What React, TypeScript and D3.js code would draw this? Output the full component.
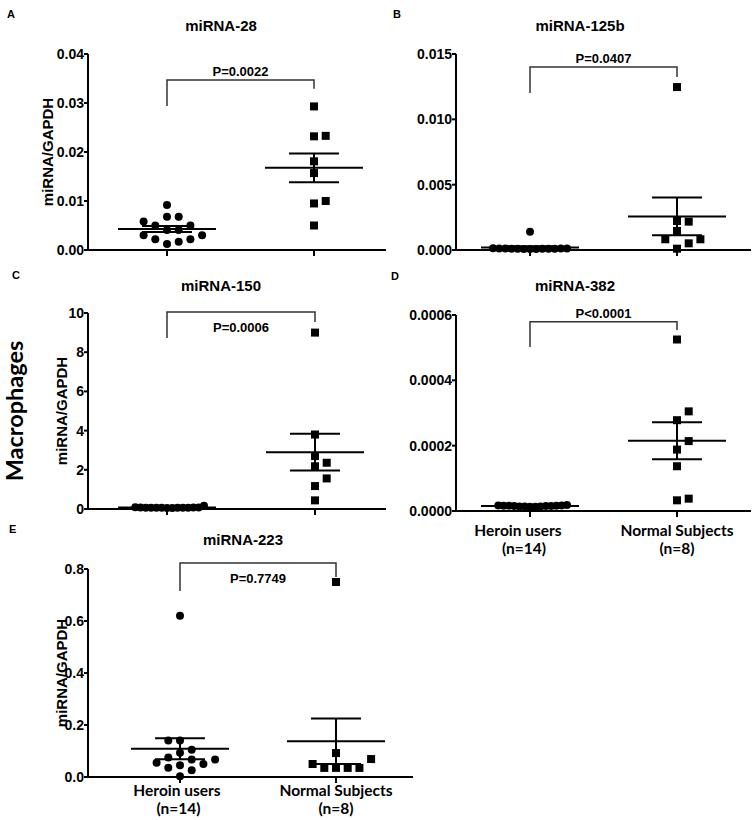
import React from "react";
import * as d3 from "d3";

// ---------- data ----------
const groups = ["Heroin users", "Normal Subjects"];
const groupCounts = ["(n=14)", "(n=8)"];
const letters = ["A", "B", "C", "D", "E"];
const titles = ["miRNA-28", "miRNA-125b", "miRNA-150", "miRNA-382", "miRNA-223"];
const pLabels = ["P=0.0022", "P=0.0407", "P=0.0006", "P<0.0001", "P=0.7749"];
const yAxisTitle = "miRNA/GAPDH";
const sideTitle = "Macrophages";

const mir28Heroin = [0.0092, 0.0068, 0.0068, 0.0058, 0.005, 0.005, 0.0041, 0.0041, 0.003, 0.003, 0.0022, 0.0022, 0.0017, 0.0012];
const mir28Normal = [0.0293, 0.0232, 0.0233, 0.0181, 0.0157, 0.01, 0.0095, 0.005];
const mir125bHeroin = [0.0014, 0.0001, 0.00012, 0.00008, 0.00011, 0.00009, 0.00013, 0.00007, 0.0001, 0.00011, 0.00009, 0.00012, 0.00008, 0.0001];
const mir125bNormal = [0.01247, 0.00217, 0.00222, 0.00146, 0.00082, 0.00082, 0.00051, 0.0001];
const mir150Heroin = [0.07, 0.06, 0.08, 0.07, 0.05, 0.07, 0.08, 0.06, 0.07, 0.05, 0.08, 0.07, 0.09, 0.17];
const mir150Normal = [9.0, 3.8, 2.7, 2.36, 2.18, 1.56, 1.17, 0.44];
const mir382Heroin = [0.000016, 0.000015, 0.000014, 0.000017, 0.000013, 0.000015, 0.000014, 0.000016, 0.000017, 0.000013, 0.000015, 0.000016, 0.000014, 0.000018];
const mir382Normal = [0.000525, 0.000305, 0.000278, 0.000214, 0.000188, 0.000137, 0.0000327, 0.0000378];
const mir223Heroin = [0.62, 0.14, 0.14, 0.105, 0.093, 0.075, 0.067, 0.067, 0.055, 0.05, 0.045, 0.036, 0.026, 0.003];
const mir223Normal = [0.75, 0.092, 0.069, 0.05, 0.035, 0.035, 0.035, 0.035];

const ticks28 = [0, 0.01, 0.02, 0.03, 0.04];
const ticks125b = [0, 0.005, 0.01, 0.015];
const ticks150 = [0, 2, 4, 6, 8, 10];
const ticks382 = [0, 0.0002, 0.0004, 0.0006];
const ticks223 = [0, 0.2, 0.4, 0.6, 0.8];

// bracket: [top, left leg end, right leg end] in data units
const bracket28 = [0.0347, 0.0294, 0.0329];
const bracket125b = [0.014, 0.01202, 0.01324];
const bracket150 = [10.05, 8.72, 9.54];
const bracket382 = [0.000579, 0.000502, 0.000554];
const bracket223 = [0.823, 0.715, 0.769];

// ---------- layout ----------
const FONT = "Arial, 'Liberation Sans', Helvetica, sans-serif";
const CAT_FONT = "Lato, 'Open Sans', sans-serif";

type Panel = {
  letter: string; title: string; p: string;
  heroin: number[]; normal: number[]; ticks: number[]; fmt: string;
  bracket: number[]; pInside: boolean;
  ax: number; right: number; top: number; bottom: number; g1: number; g2: number;
  titleX: number; titleY: number; letterX: number; letterY: number;
  yLabelX?: number; xLabels?: boolean; labelDx?: number; labelY1?: number; labelY2?: number;
};

const panels: Panel[] = [
  { letter: letters[0], title: titles[0], p: pLabels[0], heroin: mir28Heroin, normal: mir28Normal, ticks: ticks28, fmt: ".2f",
    bracket: bracket28, pInside: false, ax: 88, right: 386, top: 54, bottom: 250, g1: 167, g2: 314,
    titleX: 221, titleY: 31, letterX: 7, letterY: 18, yLabelX: 53 },
  { letter: letters[1], title: titles[1], p: pLabels[1], heroin: mir125bHeroin, normal: mir125bNormal, ticks: ticks125b, fmt: ".3f",
    bracket: bracket125b, pInside: false, ax: 456, right: 751, top: 54, bottom: 250, g1: 530, g2: 677,
    titleX: 580, titleY: 31, letterX: 393, letterY: 18 },
  { letter: letters[2], title: titles[2], p: pLabels[2], heroin: mir150Heroin, normal: mir150Normal, ticks: ticks150, fmt: "d",
    bracket: bracket150, pInside: true, ax: 88, right: 386, top: 313, bottom: 509, g1: 167, g2: 315,
    titleX: 221, titleY: 291, letterX: 12, letterY: 279, yLabelX: 67 },
  { letter: letters[3], title: titles[3], p: pLabels[3], heroin: mir382Heroin, normal: mir382Normal, ticks: ticks382, fmt: ".4f",
    bracket: bracket382, pInside: false, ax: 456, right: 751, top: 315, bottom: 511, g1: 530, g2: 677,
    titleX: 575, titleY: 291, letterX: 391, letterY: 280, xLabels: true, labelDx: -12, labelY1: 25, labelY2: 43 },
  { letter: letters[4], title: titles[4], p: pLabels[4], heroin: mir223Heroin, normal: mir223Normal, ticks: ticks223, fmt: ".1f",
    bracket: bracket223, pInside: true, ax: 88, right: 413, top: 569, bottom: 777, g1: 180, g2: 336,
    titleX: 243, titleY: 545, letterX: 9, letterY: 533, yLabelX: 67, xLabels: true, labelDx: -3, labelY1: 19, labelY2: 37 },
];

const MARK = 8;

function swarm(values: number[], y: (v: number) => number, cx: number) {
  const order = d3.range(values.length).sort((a, b) => values[a] - values[b]);
  const placed: { y: number; col: number }[] = [];
  const cols: number[] = new Array(values.length).fill(0);
  const T = 9.5;
  for (const i of order) {
    const py = y(values[i]);
    let col = 0;
    for (let k = 0; k < 40; k++) {
      const c = k === 0 ? 0 : (k % 2 === 1 ? (k + 1) / 2 : -k / 2);
      if (!placed.some((p) => p.col === c && Math.abs(p.y - py) < T)) { col = c; break; }
    }
    placed.push({ y: py, col });
    cols[i] = col;
  }
  const maxAbs = d3.max(cols, (c) => Math.abs(c)) || 1;
  const s = Math.min(11.7, 37 / maxAbs);
  return values.map((v, i) => ({ v, x: cx + cols[i] * s, y: y(v) }));
}

function PanelView({ d }: { d: Panel }) {
  const y = d3.scaleLinear().domain([d.ticks[0], d.ticks[d.ticks.length - 1]]).range([d.bottom, d.top]);
  const x = d3.scalePoint<string>().domain(groups).range([d.g1, d.g2]).padding(0);
  const fmt = d3.format(d.fmt);
  const series = [d.heroin, d.normal];
  const [bt, bl, br] = d.bracket;
  const xl = x(groups[0])!, xr = x(groups[1])!;
  const stroke = "#000";
  return (
    <g>
      <text x={d.letterX} y={d.letterY} fontFamily={FONT} fontWeight="bold" fontSize={11}>{d.letter}</text>
      <text x={d.titleX} y={d.titleY} textAnchor="middle" fontFamily={FONT} fontWeight="bold" fontSize={15}>{d.title}</text>
      {/* y axis */}
      <line x1={d.ax} x2={d.ax} y1={d.top} y2={d.bottom + 1} stroke={stroke} strokeWidth={2} />
      {d.ticks.map((t) => (
        <g key={t}>
          <line x1={d.ax - 4} x2={d.ax} y1={y(t)} y2={y(t)} stroke={stroke} strokeWidth={2} />
          <text x={d.ax - 4} y={y(t) + 5} textAnchor="end" fontFamily={FONT} fontWeight="bold" fontSize={14}>{fmt(t)}</text>
        </g>
      ))}
      {/* x axis */}
      <line x1={d.ax - 1} x2={d.right} y1={d.bottom} y2={d.bottom} stroke={stroke} strokeWidth={2} />
      {groups.map((g) => (
        <line key={g} x1={x(g)} x2={x(g)} y1={d.bottom} y2={d.bottom + 6} stroke={stroke} strokeWidth={2} />
      ))}
      {d.yLabelX !== undefined && (
        <text transform={`translate(${d.yLabelX},${(d.top + d.bottom) / 2}) rotate(-90)`} textAnchor="middle"
          fontFamily={FONT} fontWeight="bold" fontSize={15}>{yAxisTitle}</text>
      )}
      {d.xLabels && groups.map((g, i) => {
        const gx = x(g)!;
        return (
          <text key={g} textAnchor="middle" fontFamily={CAT_FONT} fontWeight="bold" fontSize={15.5}>
            <tspan x={gx + (i === 0 ? d.labelDx || 0 : 0)} y={d.bottom + (d.labelY1 || 25)}>{g}</tspan>
            <tspan x={gx + (i === 0 ? (d.labelDx || 0) / 2 : 0)} y={d.bottom + (d.labelY2 || 43)}>{groupCounts[i]}</tspan>
          </text>
        );
      })}
      {/* bracket */}
      <path d={`M${xl},${y(bl)}V${y(bt)}H${xr}V${y(br)}`} fill="none" stroke="#333" strokeWidth={1.5} />
      <text x={(xl + xr) / 2} y={d.pInside ? y(bt) + 20 : y(bt) - 4} textAnchor="middle" fontFamily={FONT} fontWeight="bold" fontSize={13}>{d.p}</text>
      {/* points */}
      {series.map((vals, si) => {
        const pts = swarm(vals, y, x(groups[si])!);
        return pts.map((p, i) => si === 0
          ? <circle key={`${si}-${i}`} cx={p.x} cy={p.y} r={MARK / 2} fill="#000" />
          : <rect key={`${si}-${i}`} x={p.x - MARK / 2} y={p.y - MARK / 2} width={MARK} height={MARK} fill="#000" />);
      })}
      {/* mean + SEM */}
      {series.map((vals, si) => {
        const m = d3.mean(vals)!;
        const sem = d3.deviation(vals)! / Math.sqrt(vals.length);
        const cx = x(groups[si])!;
        return (
          <g key={`m${si}`} stroke="#000" strokeWidth={2}>
            <line x1={cx - 49} x2={cx + 49} y1={y(m)} y2={y(m)} />
            <line x1={cx - 25} x2={cx + 25} y1={y(m + sem)} y2={y(m + sem)} />
            <line x1={cx - 25} x2={cx + 25} y1={y(m - sem)} y2={y(m - sem)} />
            <line x1={cx} x2={cx} y1={y(m + sem)} y2={y(m - sem)} />
          </g>
        );
      })}
    </g>
  );
}

export default function App() {
  return (
    <svg width={753} height={820} style={{ position: "absolute", left: 0, top: 0, background: "#fff" }}>
      <rect width={753} height={820} fill="#fff" />
      <text transform="translate(23,411) rotate(-90)" textAnchor="middle"
        fontFamily={CAT_FONT} fontWeight="bold" fontSize={23.5}>{sideTitle}</text>
      {panels.map((p) => <PanelView key={p.letter} d={p} />)}
    </svg>
  );
}
